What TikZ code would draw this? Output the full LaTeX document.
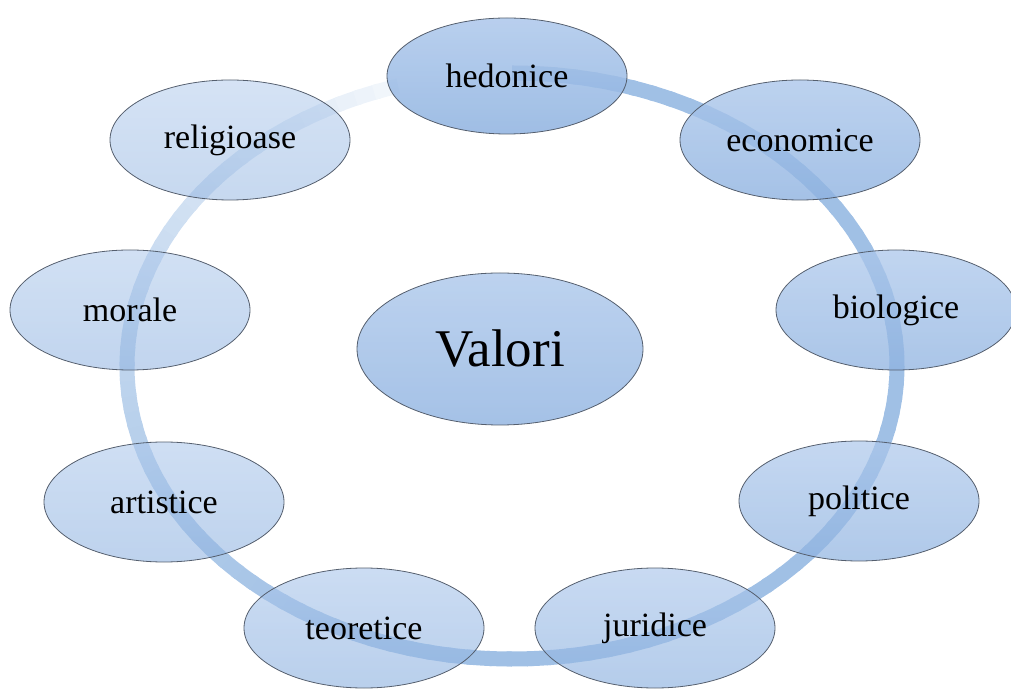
\documentclass[tikz,border=0pt]{standalone}
\usepackage{fontspec}
\setmainfont{Liberation Serif}
\usetikzlibrary{shapes.geometric}
\definecolor{ringc}{RGB}{160,192,229}
\definecolor{elltop}{RGB}{172,199,235}
\definecolor{ellbot}{RGB}{142,178,224}
\definecolor{edgec}{RGB}{85,95,110}
\tikzset{
  oval/.style={ellipse, draw=edgec, line width=0.8pt, top color=elltop, bottom color=ellbot,
    minimum width=240pt, minimum height=120pt, inner sep=0pt, text=black, text opacity=1,
    font=\fontsize{34}{40}\selectfont},
  centre/.style={oval, minimum width=286pt, minimum height=152pt, fill opacity=0.8,
    font=\fontsize{53}{60}\selectfont}
}
\begin{document}
\begin{tikzpicture}[x=1pt,y=1pt]
\useasboundingbox (0,0) rectangle (1011,688);
% ring
\coordinate (rc) at (512,322);
\foreach \a in {0,3,...,339}{
  \pgfmathsetmacro\p{\a<=200 ? 100 : 100*((345-\a)/145)^0.6}
  \pgfmathsetmacro\sa{90-\a}
  \pgfmathsetmacro\ea{86.2-\a}
  \draw[line width=15pt, color=ringc!\p!white]
    (rc) ++(\sa:385 and 293) arc[start angle=\sa, end angle=\ea, x radius=385, y radius=293];
}
% nodes
\node[oval, fill opacity=0.85, minimum height=116pt] (hed) at (507,612) {hedonice};
\node[oval, fill opacity=0.80] (eco) at (800,548) {economice};
\node[oval, fill opacity=0.75] (bio) at (896,378) {biologice};
\node[oval, fill opacity=0.70] (pol) at (859,187) {politice};
\node[oval, fill opacity=0.66] (jur) at (655,60) {juridice};
\node[oval, fill opacity=0.62] (teo) at (364,60) {teoretice};
\node[oval, fill opacity=0.58] (art) at (164,186) {artistice};
\node[oval, fill opacity=0.55] (mor) at (130,378) {morale};
\node[oval, fill opacity=0.50] (rel) at (230,548) {religioase};
\node[centre] (val) at (500,339) {Valori};
\end{tikzpicture}
\end{document}
